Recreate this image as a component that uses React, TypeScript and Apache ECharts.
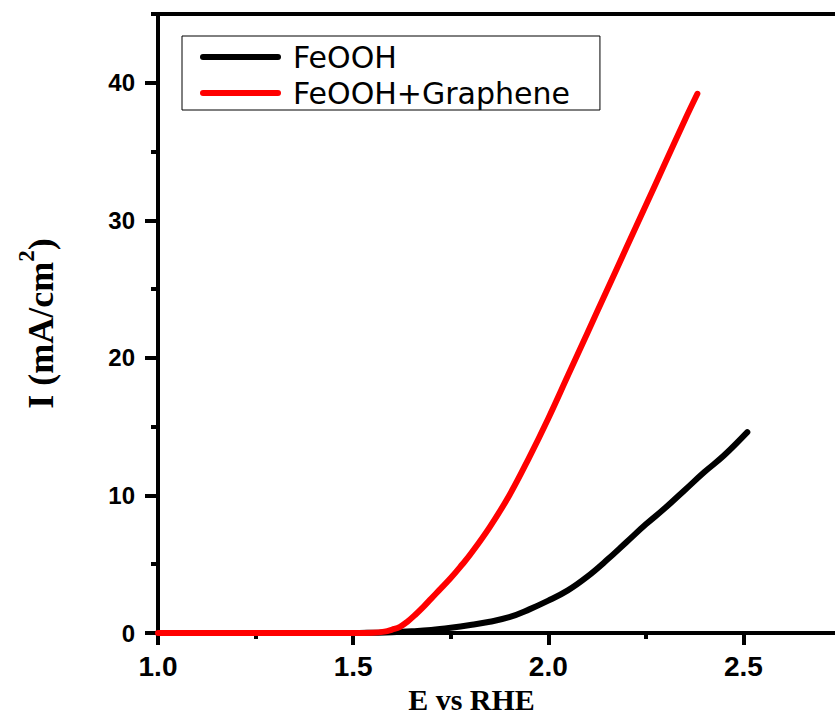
import React, { useEffect, useRef } from "react";
import * as echarts from "echarts";

const seriesNames = ["FeOOH", "FeOOH+Graphene"];
const seriesColors = ["#000000", "#ff0000"];

const feoohE = [1.0, 1.2, 1.4, 1.5, 1.55, 1.6, 1.65, 1.7, 1.75, 1.8, 1.85, 1.9, 1.95, 2.0, 2.05, 2.1, 2.15, 2.2, 2.25, 2.3, 2.35, 2.4, 2.45, 2.51];
const feoohI = [0, 0, 0, 0, 0.02, 0.05, 0.12, 0.22, 0.38, 0.58, 0.82, 1.15, 1.7, 2.35, 3.1, 4.1, 5.3, 6.6, 7.9, 9.1, 10.4, 11.7, 12.9, 14.6];

const grapheneE = [1.0, 1.2, 1.4, 1.5, 1.55, 1.58, 1.6, 1.62, 1.64, 1.66, 1.68, 1.7, 1.72, 1.75, 1.78, 1.8, 1.85, 1.9, 1.95, 2.0, 2.05, 2.1, 2.15, 2.2, 2.25, 2.3, 2.35, 2.382];
const grapheneI = [0, 0, 0, 0, 0.02, 0.1, 0.25, 0.45, 0.85, 1.35, 1.9, 2.5, 3.1, 4.0, 5.0, 5.7, 7.7, 10.0, 12.7, 15.6, 18.7, 21.8, 24.9, 28.0, 31.1, 34.2, 37.3, 39.2];

const xMajorTicks = [1.0, 1.5, 2.0, 2.5];
const xMinorTicks = [1.25, 1.75, 2.25, 2.75];
const yMajorTicks = [0, 10, 20, 30, 40];
const yMinorTicks = [5, 15, 25, 35, 45];

const xMin = 1.0;
const xMax = 2.75;
const yMin = 0;
const yMax = 45;

export default function App() {
  const ref = useRef<HTMLDivElement>(null);

  useEffect(() => {
    const chart = echarts.init(ref.current!, null, { renderer: "svg" });
    const axisColor = "#000";
    const pairs = (xs: number[], ys: number[]) => xs.map((x, i) => [x, ys[i]]);

    const option: any = {
      animation: false,
      backgroundColor: "#fff",
      grid: { left: 158, right: -6, top: 14, bottom: 82, containLabel: false, outerBoundsMode: "none" },
      legend: {
        data: seriesNames,
        orient: "vertical",
        left: 182,
        top: 36,
        itemWidth: 75,
        itemHeight: 2,
        itemGap: 6,
        padding: [6, 30, 2, 18],
        borderColor: "#000",
        borderWidth: 1,
        textStyle: {
          fontFamily: "DejaVu Sans",
          fontSize: 30,
          lineHeight: 30,
          color: "#000",
          padding: [0, 0, 0, 10],
        },
        lineStyle: { width: 6, cap: "round" },
      },
      xAxis: [
        {
          type: "value",
          min: xMin,
          max: xMax,
          interval: 0.5,
          position: "bottom",
          name: "E vs RHE",
          nameLocation: "middle",
          nameGap: 48,
          nameTextStyle: {
            fontFamily: "Liberation Serif",
            fontWeight: "bold",
            fontSize: 30,
            lineHeight: 30,
            color: "#000",
            padding: [0, 56, 0, 0],
          },
          axisLine: { show: true, lineStyle: { color: axisColor, width: 4 } },
          axisTick: { show: true, length: 12, lineStyle: { color: axisColor, width: 4 }, customValues: xMajorTicks },
          axisLabel: {
            fontFamily: "Liberation Sans",
            fontWeight: "bold",
            fontSize: 28,
            color: "#000",
            margin: 19,
            customValues: xMajorTicks,
            formatter: (v: number) => v.toFixed(1),
          },
          splitLine: { show: false },
        },
        {
          type: "value",
          min: xMin,
          max: xMax,
          interval: 0.25,
          position: "bottom",
          axisLine: { show: false },
          axisTick: { show: true, length: 6, lineStyle: { color: axisColor, width: 4 }, customValues: xMinorTicks },
          axisLabel: { show: false },
          splitLine: { show: false },
        },
        {
          type: "value",
          min: xMin,
          max: xMax,
          position: "top",
          axisLine: { show: true, lineStyle: { color: axisColor, width: 4 } },
          axisTick: { show: false },
          axisLabel: { show: false },
          splitLine: { show: false },
        },
      ],
      yAxis: [
        {
          type: "value",
          min: yMin,
          max: yMax,
          interval: 10,
          position: "left",
          name: "{b|I (mA/cm}{s|2}{b|)}",
          nameLocation: "middle",
          nameGap: 99,
          nameTextStyle: {
            rich: {
              b: {
                fontFamily: "Liberation Serif",
                fontWeight: "bold",
                fontSize: 36,
                lineHeight: 44,
                verticalAlign: "bottom",
                color: "#000",
              },
              s: {
                fontFamily: "Liberation Serif",
                fontWeight: "bold",
                fontSize: 23,
                lineHeight: 8,
                verticalAlign: "top",
                color: "#000",
              },
            },
          },
          axisLine: { show: true, lineStyle: { color: axisColor, width: 4 } },
          axisTick: { show: true, length: 13, lineStyle: { color: axisColor, width: 4 }, customValues: yMajorTicks },
          axisLabel: {
            fontFamily: "Liberation Sans",
            fontWeight: "bold",
            fontSize: 24,
            color: "#000",
            margin: 23,
            customValues: yMajorTicks,
          },
          splitLine: { show: false },
        },
        {
          type: "value",
          min: yMin,
          max: yMax,
          interval: 5,
          position: "left",
          axisLine: { show: false },
          axisTick: { show: true, length: 7, lineStyle: { color: axisColor, width: 4 }, customValues: yMinorTicks },
          axisLabel: { show: false },
          splitLine: { show: false },
        },
      ],
      series: [
        {
          name: seriesNames[0],
          type: "line",
          xAxisIndex: 0,
          yAxisIndex: 0,
          data: pairs(feoohE, feoohI),
          symbol: "none",
          showSymbol: false,
          smooth: 0.4,
          color: seriesColors[0],
          lineStyle: { width: 6, color: seriesColors[0], cap: "round", join: "round" },
          z: 3,
        },
        {
          name: seriesNames[1],
          type: "line",
          xAxisIndex: 0,
          yAxisIndex: 0,
          data: pairs(grapheneE, grapheneI),
          symbol: "none",
          showSymbol: false,
          smooth: 0.4,
          color: seriesColors[1],
          lineStyle: { width: 6, color: seriesColors[1], cap: "round", join: "round" },
          z: 4,
        },
      ],
    };
    chart.setOption(option);
    return () => chart.dispose();
  }, []);

  return (
    <div
      ref={ref}
      style={{ position: "absolute", left: 0, top: 0, width: 835, height: 715, background: "#fff" }}
    />
  );
}
